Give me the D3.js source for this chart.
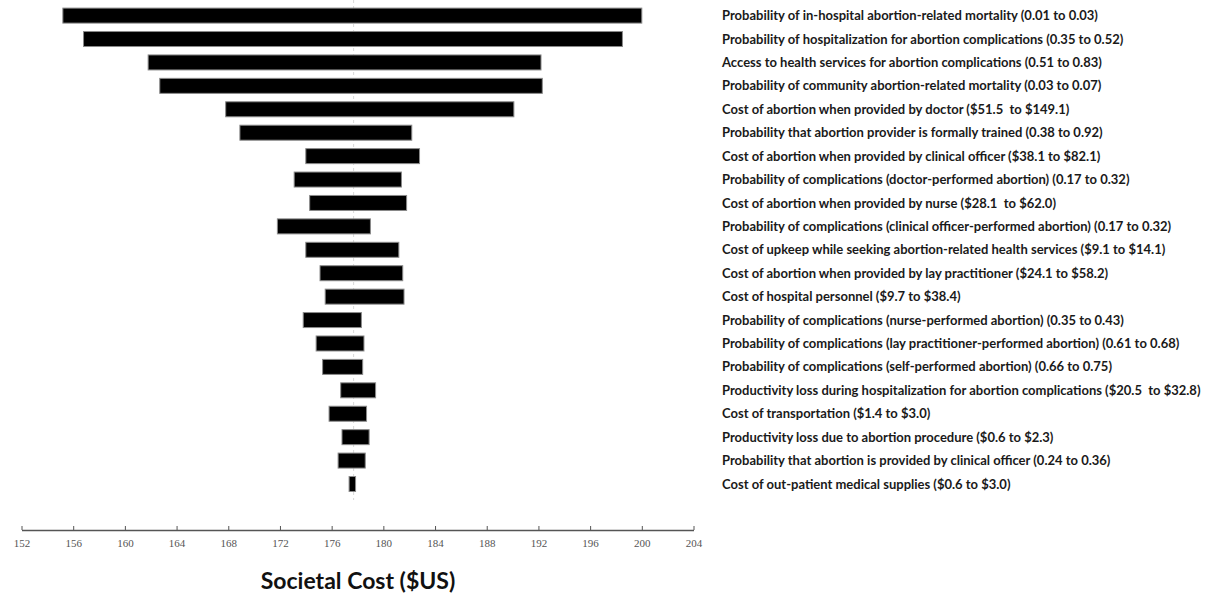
<!DOCTYPE html>
<html lang="en">
<head>
<meta charset="UTF-8">
<title>Tornado diagram</title>
<style>
  body { margin: 0; background: #fff; }
  .bar { fill: #000; stroke: #8a8a8a; stroke-width: 1px; }
  .label { font-family: Lato, "Open Sans", sans-serif; font-weight: bold; font-size: 13px; fill: #1a1a1a; }
  .axis path, .axis line { stroke: #555; }
  .axis path { stroke-width: 1.5px; }
  .axis text { font-family: "Liberation Serif", serif; font-size: 11px; fill: #555; }
  .title { font-family: Lato, "Open Sans", sans-serif; font-weight: bold; font-size: 23px; fill: #111; }
</style>
</head>
<body>
<svg id="chart" width="1211" height="594"></svg>
<script src="https://cdn.jsdelivr.net/npm/d3@7"></script>
<script>
"use strict";

var labels = [
  "Probability of in-hospital abortion-related mortality (0.01 to 0.03)",
  "Probability of hospitalization for abortion complications (0.35 to 0.52)",
  "Access to health services for abortion complications (0.51 to 0.83)",
  "Probability of community abortion-related mortality (0.03 to 0.07)",
  "Cost of abortion when provided by doctor ($51.5  to $149.1)",
  "Probability that abortion provider is formally trained (0.38 to 0.92)",
  "Cost of abortion when provided by clinical officer ($38.1 to $82.1)",
  "Probability of complications (doctor-performed abortion) (0.17 to 0.32)",
  "Cost of abortion when provided by nurse ($28.1  to $62.0)",
  "Probability of complications (clinical officer-performed abortion) (0.17 to 0.32)",
  "Cost of upkeep while seeking abortion-related health services ($9.1 to $14.1)",
  "Cost of abortion when provided by lay practitioner ($24.1 to $58.2)",
  "Cost of hospital personnel ($9.7 to $38.4)",
  "Probability of complications (nurse-performed abortion) (0.35 to 0.43)",
  "Probability of complications (lay practitioner-performed abortion) (0.61 to 0.68)",
  "Probability of complications (self-performed abortion) (0.66 to 0.75)",
  "Productivity loss during hospitalization for abortion complications ($20.5  to $32.8)",
  "Cost of transportation ($1.4 to $3.0)",
  "Productivity loss due to abortion procedure ($0.6 to $2.3)",
  "Probability that abortion is provided by clinical officer (0.24 to 0.36)",
  "Cost of out-patient medical supplies ($0.6 to $3.0)"
];

// societal cost at the two ends of each parameter range
var lowCost  = [155.2, 156.8, 161.8, 162.7, 167.8, 168.9, 174.0, 173.1, 174.3, 171.8, 174.0,
                175.1, 175.5, 173.8, 174.8, 175.3, 176.7, 175.8, 176.8, 176.5, 177.35];
var highCost = [200.0, 198.5, 192.2, 192.3, 190.1, 182.2, 182.8, 181.4, 181.8, 179.0, 181.2,
                181.5, 181.6, 178.3, 178.5, 178.4, 179.4, 178.7, 178.9, 178.6, 177.85];
var baseCost = 177.7;
var xTicks = [152, 156, 160, 164, 168, 172, 176, 180, 184, 188, 192, 196, 200, 204];

var svg = d3.select("#chart");

var x = d3.scaleLinear().domain([152, 204]).range([21.5, 693.5]);
var y = d3.scalePoint().domain(d3.range(labels.length)).range([15.6, 484]);
var barH = 15;

// base case line
svg.append("line")
  .attr("x1", x(baseCost)).attr("x2", x(baseCost))
  .attr("y1", 0).attr("y2", 500)
  .attr("stroke", "#d8d8d8")
  .attr("stroke-dasharray", "3,3");

svg.selectAll("rect.bar")
  .data(labels)
  .enter()
  .append("rect")
  .attr("class", "bar")
  .attr("x", function(d, i) { return x(lowCost[i]); })
  .attr("y", function(d, i) { return y(i) - barH / 2; })
  .attr("width", function(d, i) { return x(highCost[i]) - x(lowCost[i]); })
  .attr("height", barH);

svg.selectAll("text.label")
  .data(labels)
  .enter()
  .append("text")
  .attr("class", "label")
  .attr("x", 722)
  .attr("y", function(d, i) { return y(i); })
  .attr("dy", "0.35em")
  .attr("xml:space", "preserve")
  .text(function(d) { return d; });

svg.append("g")
  .attr("class", "axis")
  .attr("transform", "translate(0,530)")
  .call(d3.axisBottom(x).tickValues(xTicks).tickSizeInner(-4).tickSizeOuter(0).tickPadding(9));

svg.append("text")
  .attr("class", "title")
  .attr("x", 358)
  .attr("y", 581)
  .attr("dy", "0.35em")
  .attr("text-anchor", "middle")
  .text("Societal Cost ($US)");
</script>
</body>
</html>
